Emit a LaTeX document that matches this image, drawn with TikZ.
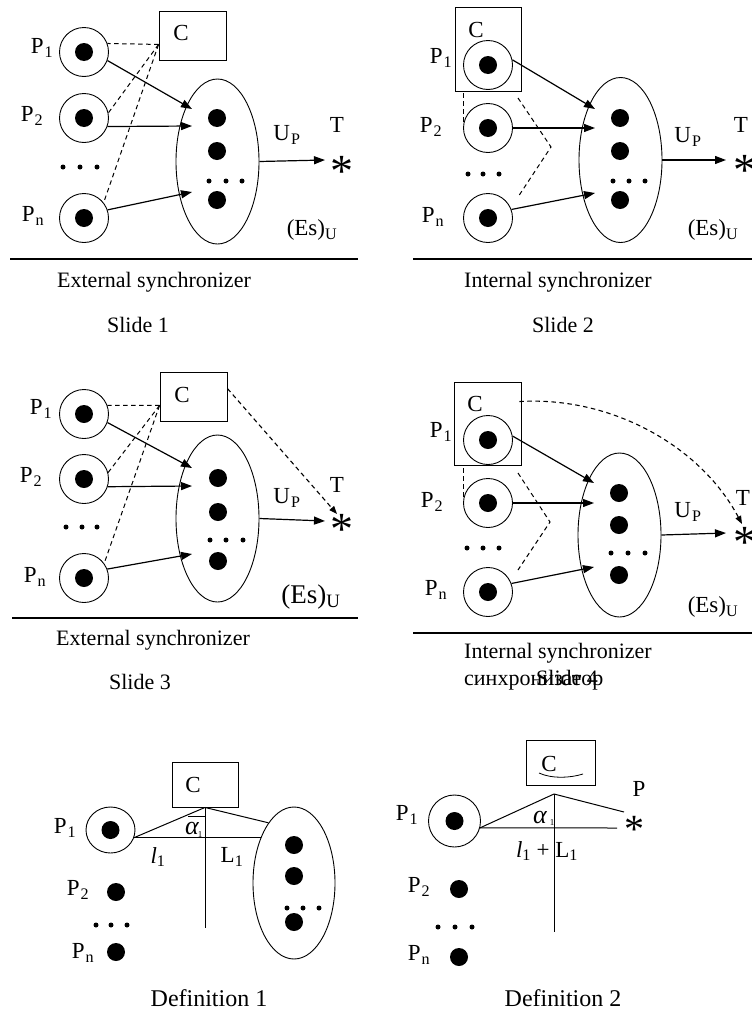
\documentclass[tikz,border=0pt]{standalone}
\usepackage{fontspec}
\setmainfont{Liberation Serif}
\usetikzlibrary{shapes.geometric,arrows.meta,calc}

\newcommand{\sbs}[1]{\kern1pt\textsubscript{#1}}

\begin{document}
\begin{tikzpicture}[x=1pt,y=-1pt,
  every node/.style={inner sep=0pt},
  txt/.style={font=\fontsize{23}{26}\selectfont},
  bigtxt/.style={font=\fontsize{27}{30}\selectfont},
  captxt/.style={font=\fontsize{22}{26}\selectfont},
  defcap/.style={font=\fontsize{24}{28}\selectfont},
  proc/.style={draw, circle, line width=0.9pt, minimum size=49pt,
    path picture={\fill (path picture bounding box.center) circle (9pt);}},
  dotn/.style={fill, circle, minimum size=18pt},
  sdot/.style={fill, circle, minimum size=5pt},
  cbox/.style={draw, rectangle, line width=0.9pt},
  env/.style={draw, ellipse, line width=0.9pt, minimum width=83pt, minimum height=165pt},
  arr/.style={line width=1.2pt, -{Triangle[length=11pt,width=8pt]}},
  dsh/.style={line width=1pt, dash pattern=on 4.5pt off 3.5pt},
  dsharr/.style={dsh, line width=1.1pt, -{Triangle[length=8pt,width=6pt]}},
  geo/.style={line width=1pt},
  rulel/.style={line width=1.8pt},
  ast/.style={font=\fontsize{46}{46}\selectfont, anchor=base},
  smallast/.style={font=\fontsize{40}{40}\selectfont, anchor=base}
]
\useasboundingbox (0,0) rectangle (752,1012);

% ---------------- Slide 1: external synchronizer ----------------
\node[cbox, minimum width=67pt, minimum height=49pt] (c1) at (192.5,35.5) {};
\node[txt] (c1l) at (181,33) {C};
\node[proc] (a11) at (84,52) {};
\node[proc] (a12) at (84,118) {};
\node[proc] (a1n) at (84,218) {};
\node[txt] (p11) at (42,48) {P\sbs{1}};
\node[txt] (p12) at (32,116) {P\sbs{2}};
\node[txt] (p1n) at (33,216) {P\sbs{n}};
\node[sdot] (l1a) at (63,167) {};
\node[sdot] (l1b) at (80,167) {};
\node[sdot] (l1c) at (97,167) {};
\node[env] (e1) at (217.5,161.5) {};
\node[dotn] (e1a) at (217,118) {};
\node[dotn] (e1b) at (217,151) {};
\node[dotn] (e1c) at (217,200) {};
\node[sdot] (m1a) at (209,181) {};
\node[sdot] (m1b) at (226,181) {};
\node[sdot] (m1c) at (242,181) {};
\coordinate (k1) at ($(c1.south west)+(0,-16)$);
\draw[dsh] (k1) -- (a11.20);
\draw[dsh] (k1) -- (a12.12);
\draw[dsh] (k1) -- (a1n.38);
\coordinate (t11) at (192,109);
\coordinate (t12) at (192,126);
\coordinate (t1n) at (192,192);
\draw[arr] (a11.-20) -- (t11);
\draw[arr] (a12.-20) -- (t12);
\draw[arr] (a1n.19) -- (t1n);
\coordinate (u1) at (325,160);
\draw[arr] (e1.east) -- (u1);
\node[ast] (s1) at (342,186.5) {*};
\node[txt] (T1) at (337,125) {T};
\node[txt] (U1) at (287,135) {U\sbs{P}};
\node[txt] (E1) at (312,230) {(Es)\textsubscript{U}};
\draw[rulel] (10,259) -- (358,259);
\node[captxt] (x1) at (154,282) {External synchronizer};
\node[captxt] (n1) at (138,325) {Slide 1};

% ---------------- Slide 2: internal synchronizer ----------------
\node[cbox, minimum width=66pt, minimum height=84pt] (c2) at (488,49) {};
\node[txt] (c2l) at (476,30) {C};
\node[proc] (a21) at (488,65) {};
\node[proc] (a22) at (488,128) {};
\node[proc] (a2n) at (488,218) {};
\node[txt] (p21) at (441,58) {P\sbs{1}};
\node[txt] (p22) at (431,127) {P\sbs{2}};
\node[txt] (p2n) at (433,217) {P\sbs{n}};
\node[sdot] (l2a) at (468,174) {};
\node[sdot] (l2b) at (483,174) {};
\node[sdot] (l2c) at (499,174) {};
\node[env] (e2) at (620.5,160) {};
\node[dotn] (e2a) at (620,118) {};
\node[dotn] (e2b) at (620,151) {};
\node[dotn] (e2c) at (620,200) {};
\node[sdot] (m2a) at (613,181) {};
\node[sdot] (m2b) at (629,181) {};
\node[sdot] (m2c) at (645,181) {};
\draw[dsh] (a22.166) -- (a22.166 |- c2.south);
\coordinate (v21) at (518,98);
\coordinate (v22) at (551,147);
\coordinate (v23) at (518,197);
\draw[dsh] (v21) -- (v22) -- (v23);
\coordinate (t21) at (595,109);
\coordinate (t22) at (595,128);
\coordinate (t2n) at (595,193);
\draw[arr] (a21.12) -- (t21);
\draw[arr] (a22.east) -- (t22);
\draw[arr] (a2n.20) -- (t2n);
\coordinate (u2) at (726,160);
\draw[arr] (e2.east) -- (u2);
\node[ast] (s2) at (745,185.5) {*};
\node[txt] (T2) at (741,125) {T};
\node[txt] (U2) at (688,137) {U\sbs{P}};
\node[txt] (E2) at (713,230) {(Es)\textsubscript{U}};
\draw[rulel] (413,259) -- (752,259);
\node[captxt] (x2) at (558,282) {Internal synchronizer};
\node[captxt] (n2) at (563,325) {Slide 2};

% ---------------- Slide 3 ----------------
\node[cbox, minimum width=67pt, minimum height=49pt] (c3) at (193.5,396.5) {};
\node[txt] (c3l) at (182,395) {C};
\node[proc] (a31) at (84,414) {};
\node[proc] (a32) at (84,479) {};
\node[proc] (a3n) at (84,578) {};
\node[txt] (p31) at (41,409) {P\sbs{1}};
\node[txt] (p32) at (31,477) {P\sbs{2}};
\node[txt] (p3n) at (35,577) {P\sbs{n}};
\node[sdot] (l3a) at (66,527) {};
\node[sdot] (l3b) at (82,527) {};
\node[sdot] (l3c) at (97,527) {};
\node[env, minimum height=167pt] (e3) at (217.5,518.5) {};
\node[dotn] (e3a) at (218,478) {};
\node[dotn] (e3b) at (218,512) {};
\node[dotn] (e3c) at (218,561) {};
\node[sdot] (m3a) at (210,540) {};
\node[sdot] (m3b) at (226,540) {};
\node[sdot] (m3c) at (243,540) {};
\coordinate (k3) at ($(c3.south west)+(0,-16)$);
\draw[dsh] (k3) -- (a31.20);
\draw[dsh] (k3) -- (a32.15);
\draw[dsh] (k3) -- (a3n.36);
\coordinate (t31) at (192,468);
\coordinate (t32) at (192,486);
\coordinate (t3n) at (192,554);
\draw[arr] (a31.-20) -- (t31);
\draw[arr] (a32.-18) -- (t32);
\draw[arr] (a3n.21) -- (t3n);
\coordinate (u3) at (325,521);
\draw[arr] (e3.east) -- (u3);
\node[ast] (s3) at (342,544.5) {*};
\coordinate (q3) at (337,514);
\draw[dsharr] ($(c3.north east)+(0,17)$) -- (q3);
\node[txt] (T3) at (337,485) {T};
\node[txt] (U3) at (287,498) {U\sbs{P}};
\node[bigtxt] (E3) at (311,597) {(Es)\textsubscript{U}};
\draw[rulel] (12,618) -- (358,618);
\node[captxt] (x3) at (153,640) {External synchronizer};
\node[captxt] (n3) at (140,682) {Slide 3};

% ---------------- Slide 4 ----------------
\node[cbox, minimum width=67pt, minimum height=83pt] (c4) at (487.5,423.5) {};
\node[txt] (c4l) at (475,404) {C};
\node[proc] (a41) at (488,440) {};
\node[proc] (a42) at (488,503) {};
\node[proc] (a4n) at (488,592) {};
\node[txt] (p41) at (441,432) {P\sbs{1}};
\node[txt] (p42) at (432,502) {P\sbs{2}};
\node[txt] (p4n) at (436,590) {P\sbs{n}};
\node[sdot] (l4a) at (467,548) {};
\node[sdot] (l4b) at (483,548) {};
\node[sdot] (l4c) at (499,548) {};
\node[env, minimum height=164pt] (e4) at (619.5,535) {};
\node[dotn] (e4a) at (619,493) {};
\node[dotn] (e4b) at (619,525) {};
\node[dotn] (e4c) at (619,575) {};
\node[sdot] (m4a) at (611,553) {};
\node[sdot] (m4b) at (628,553) {};
\node[sdot] (m4c) at (645,553) {};
\draw[dsh] (a42.166) -- (a42.166 |- c4.south);
\coordinate (v41) at (518,473);
\coordinate (v42) at (550,522);
\coordinate (v43) at (518,570);
\draw[dsh] (v41) -- (v42) -- (v43);
\coordinate (t41) at (594,483);
\coordinate (t42) at (594,503);
\coordinate (t4n) at (594,567);
\draw[arr] (a41.9) -- (t41);
\draw[arr] (a42.east) -- (t42);
\draw[arr] (a4n.20) -- (t4n);
\coordinate (u4) at (726,533);
\draw[arr] (e4.east) -- (u4);
\node[ast] (s4) at (745,557.5) {*};
\coordinate (q4) at (742,524);
\draw[dsharr] ($(c4.north east)+(-2,20)$) .. controls (610,396) and (700,445) .. (q4);
\node[txt] (T4) at (743,498) {T};
\node[txt] (U4) at (688,512) {U\sbs{P}};
\node[txt] (E4) at (713,607) {(Es)\textsubscript{U}};
\draw[rulel] (413,633) -- (752,633);
\node[captxt] (x4) at (558,653) {Internal synchronizer};
\node[captxt, anchor=base west] (r4) at (464,685) {синхронизатор};
\node[captxt, anchor=base west] (n4) at (536,685) {Slide 4};

% ---------------- Definition 1 ----------------
\node[cbox, minimum width=66pt, minimum height=45pt] (c5) at (205,784.5) {};
\node[txt] (c5l) at (193,785) {C};
\node[proc, ellipse, minimum width=49pt, minimum height=46pt] (a51) at (110.5,830) {};
\node[txt] (p51) at (65,828) {P\sbs{1}};
\node[dotn] (a52) at (116,892) {};
\node[txt] (p52) at (78,890) {P\sbs{2}};
\node[sdot] (l5a) at (96,925) {};
\node[sdot] (l5b) at (111,925) {};
\node[sdot] (l5c) at (127,925) {};
\node[dotn] (a5n) at (116,952) {};
\node[txt] (p5n) at (83,953) {P\sbs{n}};
\node[env, minimum width=82pt, minimum height=152pt] (e5) at (294,883) {};
\node[dotn] (e5a) at (294,845) {};
\node[dotn] (e5b) at (294,876) {};
\node[dotn] (e5c) at (294,922) {};
\node[sdot] (m5a) at (287,908) {};
\node[sdot] (m5b) at (303,908) {};
\node[sdot] (m5c) at (319,908) {};
\coordinate (v5) at (205,928);
\draw[geo] (c5.south) -- (v5);
\draw[geo] (c5.south) -- (a51.-18);
\draw[geo] (a51.-18) -- (a51.-18 -| e5.125);
\draw[geo] (c5.south) -- (e5.113);
\draw[line width=0.8pt] ($(c5.south)+(-17,9)$) -- ($(c5.south)+(0,9)$);
\node[font=\fontsize{26}{28}\selectfont] (al5) at (192,828) {\itshape α};
\node[font=\fontsize{9}{9}\selectfont] (al5s) at (200,835) {1};
\node[txt] (ll5) at (158,857) {\textit{l}\textsubscript{1}};
\node[txt] (LL5) at (232,857) {L\textsubscript{1}};
\node[defcap] (d5) at (209,998) {Definition 1};

% ---------------- Definition 2 ----------------
\node[cbox, minimum width=69pt, minimum height=45pt] (c6) at (560.5,762.5) {};
\node[txt] (c6l) at (549,764) {C};
\draw[line width=0.8pt] (539,773) .. controls (552,779) and (570,778) .. (583,774);
\coordinate (ap6) at (554,794);
\node[proc, minimum size=52pt] (a61) at (454.5,821) {};
\node[txt] (p61) at (407,815) {P\sbs{1}};
\node[dotn] (a62) at (459,889) {};
\node[txt] (p62) at (419,887) {P\sbs{2}};
\node[sdot] (l6a) at (438,927) {};
\node[sdot] (l6b) at (455,927) {};
\node[sdot] (l6c) at (472,927) {};
\node[dotn] (a6n) at (459,957) {};
\node[txt] (p6n) at (419,955) {P\sbs{n}};
\coordinate (v6) at (554,932);
\coordinate (h6) at (617,828);
\coordinate (w6) at (624,812);
\draw[geo] (ap6) -- (v6);
\draw[geo] (ap6) -- (a61.-15);
\draw[geo] (a61.-15) -- (h6);
\draw[geo] (ap6) -- (w6);
\node[font=\fontsize{26}{28}\selectfont] (al6) at (540,817) {\itshape α};
\node[font=\fontsize{9}{9}\selectfont] (al6s) at (552,823) {1};
\node[smallast] (s6) at (634.5,842) {*};
\node[txt] (P6) at (639,789) {P};
\node[txt] (ll6) at (547,851) {\textit{l}\textsubscript{1} + L\textsubscript{1}};
\node[defcap] (d6) at (563,998) {Definition 2};
\end{tikzpicture}
\end{document}
